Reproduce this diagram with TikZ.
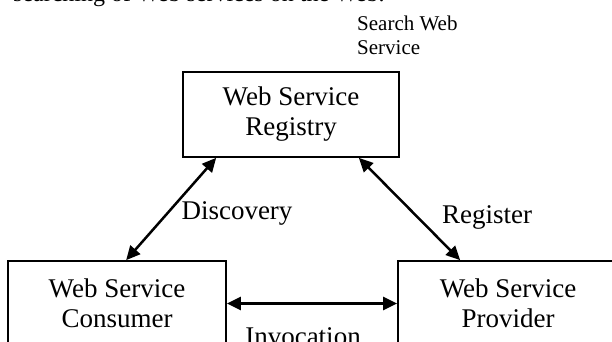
\documentclass[tikz,border=0pt]{standalone}
\usepackage{fontspec}
\setmainfont{Liberation Serif}
\usepackage{tikz}
\usetikzlibrary{arrows.meta, positioning}
\tikzstyle{arrow} = [{Triangle[length=14pt,width=13pt]}-{Triangle[length=14pt,width=13pt]}, line width=2.5pt]
\tikzstyle{wsbox} = [draw, line width=1.7pt, minimum height=85pt, align=center, inner sep=0pt, font=\fontsize{27}{30}\selectfont]
\tikzstyle{lbl} = [font=\fontsize{27}{30}\selectfont, inner sep=0pt]

\begin{document}
\begin{tikzpicture}[x=1pt, y=-1pt]
  \useasboundingbox (0,0) rectangle (612,342);
  \clip (0,0) rectangle (612,342);

  % cut-off line of the text above
  \node[font=\fontsize{24}{28}\selectfont, anchor=base west, inner sep=0pt] (txt) at (13,2) {searching of Web services on the Web.};

  \node[wsbox, minimum width=216pt] (reg) at (291,114.5) {Web Service\\Registry};
  \node[wsbox, minimum width=218pt] (con) at (117,303.5) {Web Service\\Consumer};
  \node[wsbox, minimum width=220pt] (pro) at (508,303.5) {Web Service\\Provider};

  \draw[arrow] ([xshift=34pt]reg.south west) -- ([xshift=119pt]con.north west);
  \draw[arrow] ([xshift=-41pt]reg.south east) -- ([xshift=63pt]pro.north west);
  \draw[arrow] (con.east) -- (pro.west);

  \node[lbl] (disc) at (237,213) {Discovery};
  \node[lbl] (regl) at (487,217) {Register};
  \node[lbl, anchor=base] (inv) at (303,345) {Invocation};
  \node[font=\fontsize{21}{24}\selectfont, align=left, anchor=north west, inner sep=0pt] (search) at (357,15.5) {Search Web\\Service};
\end{tikzpicture}
\end{document}
